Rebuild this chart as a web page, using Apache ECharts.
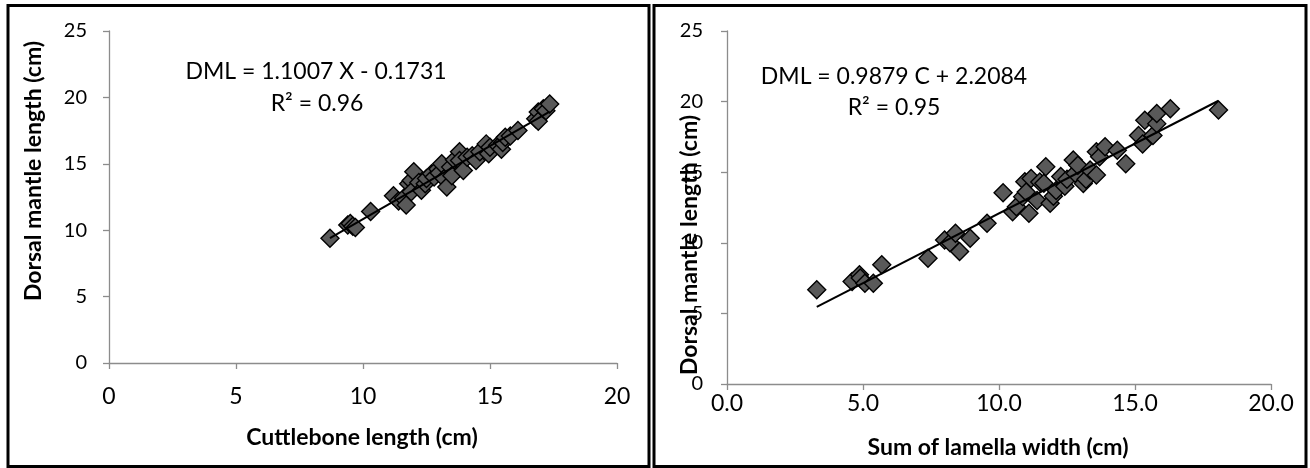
<!DOCTYPE html>
<html lang="en">
<head>
<meta charset="UTF-8">
<title>DML regressions</title>
<style>
  *{margin:0;padding:0;}
  body{background:#fff;}
  #main{width:1310px;height:468px;}
</style>
</head>
<body>
<div id="main"></div>
<script src="https://cdn.jsdelivr.net/npm/echarts@6/dist/echarts.min.js"></script>
<script>
// left panel: cuttlebone length (cm) vs dorsal mantle length (cm)
var cbLength = [8.7, 9.4, 9.5, 9.6, 9.7, 10.3, 11.2, 11.4, 11.6, 11.7, 11.8, 11.9, 11.9, 12.0,
                12.2, 12.3, 12.45, 12.5, 12.7, 12.8, 12.95, 13.0, 13.1, 13.2, 13.3, 13.45, 13.5,
                13.6, 13.8, 13.8, 13.95, 14.1, 14.3, 14.45, 14.6, 14.85, 14.95, 15.0, 15.3, 15.45,
                15.5, 15.6, 15.8, 16.1, 16.8, 16.9, 16.9, 17.1, 17.2, 17.35];
var dmlLeft  = [9.4, 10.4, 10.5, 10.3, 10.2, 11.4, 12.6, 12.2, 12.4, 11.9, 13.5, 13.75, 12.9, 14.4,
                13.6, 13.0, 13.5, 13.9, 14.25, 14.0, 14.6, 14.3, 15.0, 13.9, 13.25, 14.75, 14.1,
                15.3, 15.9, 15.25, 14.5, 15.5, 15.6, 15.25, 15.9, 16.5, 15.75, 16.25, 16.4, 16.1,
                16.6, 17.0, 17.1, 17.5, 18.4, 18.9, 18.2, 19.15, 19.0, 19.5];

// right panel: sum of lamella width (cm) vs dorsal mantle length (cm)
var lamWidth = [3.3, 4.6, 4.87, 4.9, 5.07, 5.38, 5.69, 7.39, 8.0, 8.2, 8.4, 8.55, 8.94, 9.56,
                10.15, 10.5, 10.64, 10.87, 10.95, 11.0, 11.1, 11.18, 11.4, 11.5, 11.65, 11.72,
                11.88, 12.0, 12.1, 12.27, 12.42, 12.5, 12.73, 12.8, 12.9, 13.1, 13.2, 13.35,
                13.58, 13.58, 13.7, 13.9, 14.35, 14.66, 15.13, 15.28, 15.36, 15.66, 15.8, 15.8,
                16.3, 18.07];
var dmlRight = [6.67, 7.26, 7.73, 7.5, 7.14, 7.14, 8.44, 8.9, 10.2, 10.0, 10.67, 9.38, 10.32, 11.38,
                13.55, 12.2, 12.56, 13.27, 14.33, 13.6, 12.09, 14.56, 13.0, 14.3, 14.21, 15.39,
                12.8, 13.3, 13.7, 14.7, 14.0, 14.5, 15.86, 14.93, 15.5, 14.2, 14.5, 15.15,
                14.8, 16.45, 16.1, 16.8, 16.56, 15.6, 17.6, 17.0, 18.68, 17.6, 18.44, 19.15,
                19.5, 19.4];

// trendline coefficients printed on the chart [slope, intercept]
var fitLeft  = [1.1007, -0.1731];
var fitRight = [0.9879, 2.2084];

var eqLeft  = ['DML = 1.1007 X - 0.1731', 'R\u00b2 = 0.96'];
var eqRight = ['DML = 0.9879 C + 2.2084', 'R\u00b2 = 0.95'];

var xTicksLeft  = [0, 5, 10, 15, 20];
var xTicksRight = ['0.0', '5.0', '10.0', '15.0', '20.0'];
var yTicks      = [0, 5, 10, 15, 20, 25];

function pairs(xs, ys){
  var out = [];
  for (var i = 0; i < xs.length; i++) out.push([xs[i], ys[i]]);
  return out;
}
function trend(xs, fit){
  var lo = Math.min.apply(null, xs), hi = Math.max.apply(null, xs);
  return [[lo, fit[0]*lo + fit[1]], [hi, fit[0]*hi + fit[1]]];
}

var font = 'Lato, "Open Sans", sans-serif';
var axisGray = '#8c8c8c';

function makeX(idx, labels, margin){
  return {
    gridIndex: idx, type: 'value', min: 0, max: 20, interval: 5,
    splitLine: {show: false},
    axisLine: {onZero: false, lineStyle: {color: axisGray, width: 1.3}},
    axisTick: {show: true, length: 6, lineStyle: {color: axisGray, width: 1.3}},
    axisLabel: {
      margin: margin, color: '#000', fontFamily: font, fontSize: 23,
      formatter: function(v){ return labels[v/5]; }
    }
  };
}
function makeY(idx, margin){
  return {
    gridIndex: idx, type: 'value', min: 0, max: 25, interval: 5,
    splitLine: {show: false},
    axisLine: {show: true, onZero: false, lineStyle: {color: axisGray, width: 1.3}},
    axisTick: {show: true, length: 6, lineStyle: {color: axisGray, width: 1.3}},
    axisLabel: {
      margin: margin, color: '#000', fontFamily: font, fontSize: 20,
      formatter: function(v){ return String(yTicks[v/5]); }
    }
  };
}
function scatter(idx, data){
  return {
    type: 'scatter', xAxisIndex: idx, yAxisIndex: idx, data: data,
    symbol: 'diamond', symbolSize: 18, z: 2,
    itemStyle: {color: '#595959', borderColor: '#000', borderWidth: 1.4, opacity: 1}
  };
}
function line(idx, data){
  return {
    type: 'line', xAxisIndex: idx, yAxisIndex: idx, data: data,
    showSymbol: false, z: 3, silent: true,
    lineStyle: {color: '#000', width: 2}
  };
}
function text(x, y, str, bold, rot){
  return {
    type: 'text', x: x, y: y, rotation: rot || 0, z: 10,
    style: {
      text: str, fill: '#000', font: (bold ? 'bold 23px ' : '23px ') + font,
      align: 'center', verticalAlign: 'middle'
    }
  };
}

var chart = echarts.init(document.getElementById('main'));
chart.setOption({
  animation: false,
  grid: [
    {left: 109, top: 31, width: 508, height: 332},
    {left: 727, top: 31, width: 544, height: 353}
  ],
  xAxis: [makeX(0, xTicksLeft, 22), makeX(1, xTicksRight, 8)],
  yAxis: [makeY(0, 22), makeY(1, 24)],
  series: [
    scatter(0, pairs(cbLength, dmlLeft)),
    line(0, trend(cbLength, fitLeft)),
    scatter(1, pairs(lamWidth, dmlRight)),
    line(1, trend(lamWidth, fitRight))
  ],
  graphic: [
    {type: 'rect', shape: {x: 8, y: 5.5, width: 641, height: 461}, style: {fill: null, stroke: '#000', lineWidth: 3}},
    {type: 'rect', shape: {x: 654, y: 5.5, width: 652, height: 461}, style: {fill: null, stroke: '#000', lineWidth: 3}},
    text(316, 72, eqLeft[0], false),
    text(317, 104, eqLeft[1], false),
    text(894, 77, eqRight[0], false),
    text(894, 108, eqRight[1], false),
    text(362, 438, 'Cuttlebone length (cm)', true),
    text(998, 448, 'Sum of lamella width (cm)', true),
    text(34, 171, 'Dorsal mantle length (cm)', true, Math.PI/2),
    text(690, 245, 'Dorsal mantle length (cm)', true, Math.PI/2)
  ]
});
</script>
</body>
</html>
